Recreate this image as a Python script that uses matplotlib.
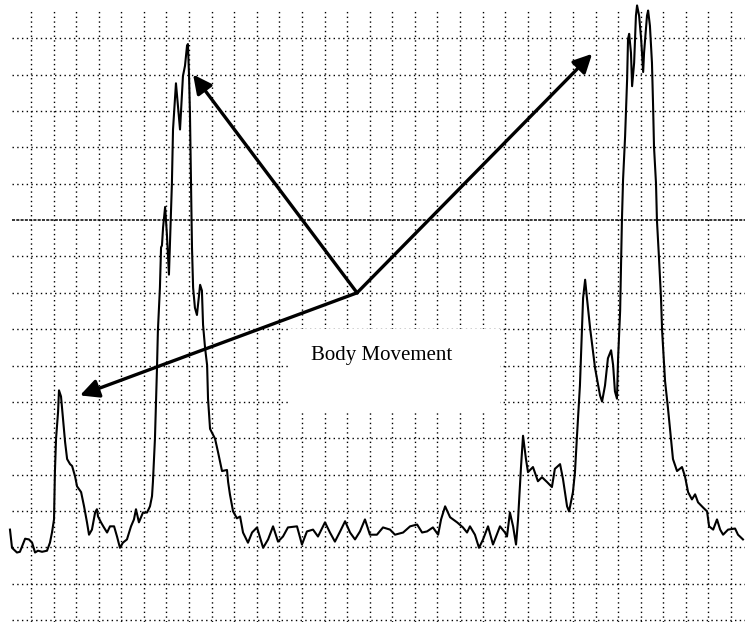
import matplotlib
matplotlib.use("Agg")
import matplotlib.pyplot as plt
from matplotlib.patches import Rectangle

# trace, in grid divisions (x: time, y: amplitude)
t = [0.07, 0.16, 0.38, 0.51, 0.74, 0.91, 1.05, 1.18, 1.31, 1.49, 1.71, 1.84, 1.93, 2.02,
     2.06, 2.11, 2.20, 2.24, 2.33, 2.42, 2.51, 2.60, 2.73, 2.82, 2.95, 3.04, 3.22, 3.35,
     3.48, 3.57, 3.70, 3.84, 3.92, 3.97, 4.10, 4.23, 4.37, 4.50, 4.68, 4.81, 4.94, 5.07,
     5.25, 5.43, 5.56, 5.65, 5.78, 5.96, 6.14, 6.27, 6.36, 6.40, 6.49, 6.58, 6.62, 6.71,
     6.76, 6.80, 6.85, 6.94, 7.02, 7.11, 7.24, 7.29, 7.42, 7.60, 7.73, 7.82, 7.91, 7.95,
     8.00, 8.04, 8.13, 8.18, 8.26, 8.35, 8.49, 8.57, 8.62, 8.71, 8.80, 8.84, 8.93, 9.15,
     9.28, 9.46, 9.68, 9.73, 9.81, 9.95, 10.12, 10.26, 10.39, 10.61, 10.79, 11.01, 11.28,
     11.50, 11.72, 11.94, 12.16, 12.38, 12.78, 13.00, 13.22, 13.49, 13.71, 14.02, 14.24,
     14.46, 14.69, 14.91, 15.13, 15.35, 15.57, 15.79, 16.01, 16.32, 16.59, 16.90, 17.12,
     17.48, 17.79, 18.10, 18.32, 18.54, 18.80, 19.03, 19.16, 19.34, 19.56, 19.87, 20.13,
     20.31, 20.44, 20.66, 20.84, 21.02, 21.24, 21.46, 21.77, 21.99, 22.08, 22.21, 22.35,
     22.48, 22.57, 22.70, 22.79, 22.92, 23.01, 23.23, 23.45, 23.63, 23.85, 24.07, 24.20,
     24.43, 24.56, 24.74, 24.83, 25.00, 25.09, 25.18, 25.31, 25.40, 25.45, 25.54, 25.62,
     25.76, 25.98, 26.20, 26.29, 26.42, 26.55, 26.69, 26.78, 26.86, 26.95, 27.00, 27.09,
     27.17, 27.22, 27.31, 27.40, 27.44, 27.49, 27.57, 27.62, 27.71, 27.79, 27.84, 27.93,
     28.02, 28.11, 28.15, 28.28, 28.33, 28.41, 28.50, 28.55, 28.59, 28.68, 28.72, 28.81,
     28.90, 28.95, 29.08, 29.21, 29.34, 29.43, 29.61, 29.83, 29.96, 30.10, 30.27, 30.41,
     30.54, 30.76, 30.94, 31.03, 31.21, 31.38, 31.52, 31.65, 31.87, 32.18, 32.31, 32.53]
amp = [2.49, 1.99, 1.86, 1.88, 2.24, 2.22, 2.13, 1.86, 1.91, 1.88, 1.91, 2.13, 2.41, 2.77,
       4.07, 4.99, 5.73, 6.32, 6.15, 5.54, 4.90, 4.43, 4.29, 4.24, 3.96, 3.68, 3.52, 3.13,
       2.69, 2.35, 2.49, 2.96, 3.05, 2.85, 2.69, 2.55, 2.41, 2.58, 2.58, 2.30, 1.99, 2.13,
       2.22, 2.58, 2.77, 3.05, 2.69, 2.96, 2.96, 3.13, 3.41, 3.80, 4.99, 6.93, 7.95, 9.14,
       10.25, 10.30, 10.80, 11.36, 10.60, 9.50, 11.99, 13.49, 14.76, 13.49, 14.96, 15.24, 15.79, 15.84,
       14.96, 13.93, 10.25, 9.14, 8.59, 8.39, 9.22, 9.06, 8.12, 7.48, 7.01, 6.09, 5.26, 4.99,
       4.63, 4.10, 4.13, 3.80, 3.46, 2.99, 2.80, 2.85, 2.41, 2.13, 2.41, 2.55, 1.99,
       2.22, 2.58, 2.16, 2.30, 2.55, 2.58, 2.08, 2.44, 2.49, 2.30, 2.69, 2.41,
       2.16, 2.44, 2.72, 2.41, 2.22, 2.44, 2.77, 2.35, 2.35, 2.55, 2.49, 2.35,
       2.41, 2.58, 2.63, 2.41, 2.44, 2.55, 2.35, 2.77, 3.13, 2.83, 2.69, 2.55,
       2.41, 2.58, 2.35, 1.99, 2.22, 2.58, 2.08, 2.58, 2.41, 2.30, 2.96, 2.58,
       2.08, 2.77, 4.21, 5.07, 4.43, 4.07, 4.21, 3.82, 3.93, 3.80, 3.66, 4.16,
       4.29, 3.88, 3.13, 2.99, 3.52, 4.07, 5.07, 6.45, 7.95, 8.86, 9.36, 8.86,
       8.03, 6.93, 6.18, 6.01, 6.45, 7.20, 7.42, 7.01, 6.29, 6.09, 7.20, 8.50,
       11.00, 12.11, 13.30, 14.88, 15.98, 16.12, 15.60, 14.68, 15.32, 16.62, 16.90, 16.62,
       15.98, 15.07, 15.60, 16.62, 16.76, 16.34, 15.32, 14.13, 13.02, 11.99, 11.00, 9.97,
       8.86, 7.95, 6.57, 5.82, 4.99, 4.43, 4.10, 4.21, 3.96, 3.52, 3.32, 3.46,
       3.24, 3.10, 2.99, 2.58, 2.49, 2.77, 2.49, 2.35, 2.49, 2.52, 2.35, 2.22]

# arrows start from one point and end at the three movement peaks
arrow_origin = (15.44, 9.0)
arrow_tips = [(8.18, 15.0), (25.85, 15.57), (3.17, 6.18)]
label = "Body Movement"
label_pos = (16.55, 7.29)

fig = plt.figure(figsize=(7.45, 6.22), dpi=100)
ax = fig.add_axes([0, 0, 1, 1])
ax.set_xlim(-0.372, 32.62)
ax.set_ylim(-0.05, 17.05)
ax.axis("off")

# chart-paper grid
for gx in range(1, 33):
    ax.axvline(gx, ymin=0, ymax=0.985, color="black", lw=1.0,
               linestyle=(0, (1, 2.4)), zorder=1)
for gy in range(0, 17):
    if gy == 11:
        ax.axhline(gy, xmin=0.016, color="black", lw=1.1,
                   linestyle=(0, (2, 0.8)), zorder=1)
    else:
        ax.axhline(gy, xmin=0.016, color="black", lw=1.0,
                   linestyle=(0, (1, 2.4)), zorder=1)

# blank patch under the label
ax.add_patch(Rectangle((12.47, 5.70), 9.3, 2.3, facecolor="white",
                       edgecolor="none", zorder=2))

ax.plot(t, amp, color="black", lw=1.5, zorder=3)

for tip in arrow_tips:
    ax.annotate("", xy=tip, xytext=arrow_origin,
                arrowprops=dict(arrowstyle="-|>", color="black", lw=2.4,
                                mutation_scale=28, shrinkA=0, shrinkB=0),
                zorder=4)

ax.text(label_pos[0], label_pos[1], label, ha="center", va="center",
        fontsize=15, family="Liberation Serif", zorder=5)

fig.savefig("out.png", dpi=100)
